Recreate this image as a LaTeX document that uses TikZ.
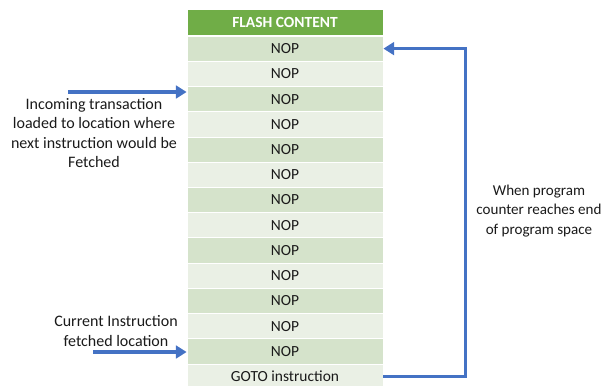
\documentclass[tikz,border=0pt]{standalone}
\usepackage{fontspec}
\setmainfont{Carlito}
\usetikzlibrary{arrows.meta}
\definecolor{hdr}{HTML}{70AD47}
\definecolor{rowA}{HTML}{D5E3CB}
\definecolor{rowB}{HTML}{EAF0E5}
\definecolor{arr}{HTML}{4472C4}
\definecolor{txt}{HTML}{1A1A1A}
\begin{document}
\begin{tikzpicture}[x=0.75pt,y=-0.75pt,
  cell/.style={minimum width=147pt, minimum height=18.92pt, inner sep=0pt,
    draw=white, line width=0.6pt, font=\fontsize{11.6}{13}\selectfont, text=txt},
  hdrcell/.style={cell, fill=hdr, text=white, font=\fontsize{11.6}{13}\selectfont\bfseries},
  label/.style={align=center, font=\fontsize{12}{14.5}\selectfont, text=txt, inner sep=0pt},
  bluearrow/.style={draw=arr, line width=2.6pt, line join=miter,
    -{Triangle[length=8pt,width=9.5pt]}}]
\clip (0,0) rectangle (605,385);
\node[hdrcell] (hd) at (285,22.5) {FLASH CONTENT};
\foreach \k in {1,...,13}{
  \pgfmathsetmacro{\yy}{36+25.23*(\k-0.5)}
  \pgfmathtruncatemacro{\odd}{mod(\k,2)}
  \ifnum\odd=1
    \node[cell, fill=rowA] (r\k) at (285,\yy) {NOP};
  \else
    \node[cell, fill=rowB] (r\k) at (285,\yy) {NOP};
  \fi
}
\node[cell, fill=rowB] (r14) at (285,376.6) {GOTO instruction};
% left labels
\node[label] (t1) at (94,133) {Incoming transaction\\loaded to location where\\next instruction would be\\Fetched};
\node[label] (t2) at (116,331) {Current Instruction\\fetched location};
\node[label, font=\fontsize{11.3}{14.5}\selectfont] (t3) at (539,211) {When program\\counter reaches end\\of program space};
% arrows
\coordinate (inA) at (68,92);
\coordinate (inB) at (93,352);
\draw[bluearrow] (inA) -- (inA -| r3.west);
\draw[bluearrow] (inB) -- (inB -| r13.west);
\draw[bluearrow] (r14.east) -- ++(82,0) |- (r1.east);
\end{tikzpicture}
\end{document}
